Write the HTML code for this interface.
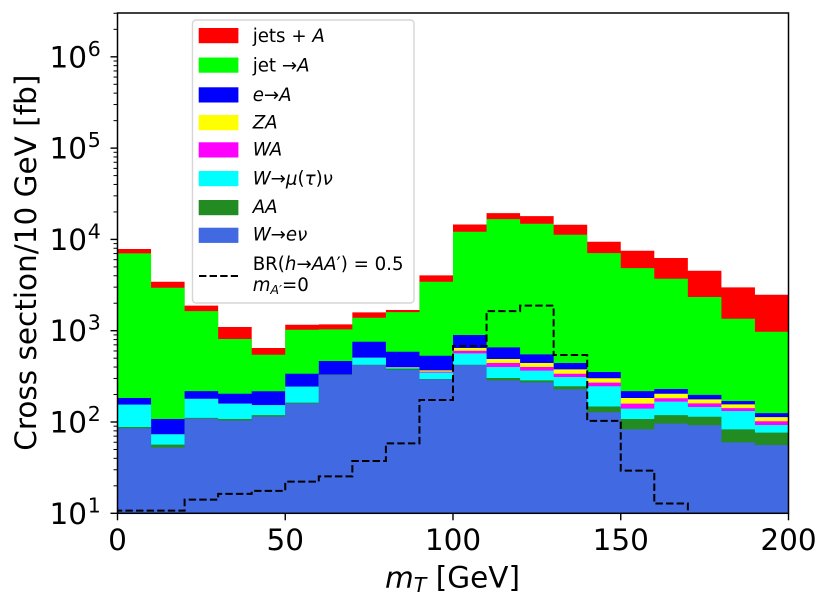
<!DOCTYPE html>
<html>
<head>
<meta charset="utf-8">
<title>Cross section vs transverse mass</title>
<style>
html,body{margin:0;padding:0;background:#fff;}
svg{display:block;font-family:"DejaVu Sans","Liberation Sans",sans-serif;}
.leg{font-size:18.2px;fill:#000;}
.it{font-style:italic;}
</style>
</head>
<body>
<svg id="chart" width="831" height="607" viewBox="0 0 831 607" xmlns="http://www.w3.org/2000/svg">
  <defs><clipPath id="plot-clip"><rect x="117.5" y="13" width="671" height="500.3"/></clipPath></defs>
  <rect width="831" height="607" fill="#fff"/>
  <g id="marks" clip-path="url(#plot-clip)"></g>
  <g id="axes"></g>

  <g>
    <rect x="192.5" y="20" width="221.5" height="283" rx="3.5" fill="#fff" fill-opacity="0.8" stroke="#d6d6d6" stroke-width="1.4"/>
    <g>
      <rect x="198.7" y="28" width="39.7" height="15.2" fill="#ff0000"/>
      <text class="leg" x="252.7" y="41.8">jets + <tspan class="it">A</tspan></text>
    </g>
    <g>
      <rect x="198.7" y="57.5" width="39.7" height="15.2" fill="#00ff00"/>
      <text class="leg" x="252.7" y="71.5">jet →<tspan class="it">A</tspan></text>
    </g>
    <g>
      <rect x="198.7" y="87.3" width="39.7" height="15.2" fill="#0000ff"/>
      <text class="leg" x="252.7" y="100.8"><tspan class="it">e</tspan>→<tspan class="it">A</tspan></text>
    </g>
    <g>
      <rect x="198.7" y="115" width="39.7" height="15.2" fill="#ffff00"/>
      <text class="leg it" x="252.7" y="128.3">ZA</text>
    </g>
    <g>
      <rect x="198.7" y="142.3" width="39.7" height="15.2" fill="#ff00ff"/>
      <text class="leg it" x="252.7" y="155.7">WA</text>
    </g>
    <g>
      <rect x="198.7" y="171" width="39.7" height="15.2" fill="#00ffff"/>
      <text class="leg" x="252.7" y="184.7"><tspan class="it">W</tspan>→<tspan class="it">μ</tspan>(<tspan class="it">τ</tspan>)<tspan class="it">ν</tspan></text>
    </g>
    <g>
      <rect x="198.7" y="200" width="39.7" height="15.2" fill="#228b22"/>
      <text class="leg it" x="252.7" y="213">AA</text>
    </g>
    <g>
      <rect x="198.7" y="227.7" width="39.7" height="15.2" fill="#4169e1"/>
      <text class="leg" x="252.7" y="240.7"><tspan class="it">W</tspan>→<tspan class="it">e</tspan><tspan class="it">ν</tspan></text>
    </g>
    <g>
      <line x1="199" y1="276" x2="238" y2="276" stroke="#000" stroke-width="2" stroke-dasharray="7.4 3.2"/>
      <text class="leg" x="252.7" y="270">BR(<tspan class="it">h</tspan>→<tspan class="it">AA</tspan>′) = 0.5</text>
      <text class="leg" x="252.7" y="291"><tspan class="it">m</tspan><tspan class="it" font-size="12.7" dy="3">A′</tspan><tspan dy="-3">=0</tspan></text>
    </g>
  </g>

  <text x="452.5" y="587.3" font-size="29.5" text-anchor="middle"><tspan class="it">m</tspan><tspan class="it" font-size="20.6" dy="4.5">T</tspan><tspan dy="-4.5"> [GeV]</tspan></text>
  <text transform="translate(36,262.7) rotate(-90)" font-size="29.5" text-anchor="middle">Cross section/10 GeV [fb]</text>
</svg>

<script>
// Bin edges of the histogram (GeV)
const binEdges = [0,10,20,30,40,50,60,70,80,90,100,110,120,130,140,150,160,170,180,190,200];

// Stacked heights (running total of the stack at each bin, fb)
const wEnu   = [85.3,52.4,109,104,115,160,327,421,371,293,421,286,272,228,128,83.1,95.9,92.0,59.9,56.0];
const aaTop  = [88.2,56.5,111,108,119,163,330,424,384,296,424,303,286,246,148,108,119,114,83.1,76.4];
const wMuTau = [155,73.3,179,159,153,244,330,506,394,347,565,400,365,311,246,140,167,146,132,92.7];
const waTop  = [155,73.3,179,159,153,244,330,506,398,356,604,443,400,338,270,159,182,160,142,102];
const zaTop  = [155,73.3,179,159,153,244,330,506,400,368,646,490,443,377,301,183,204,177,156,113];
const eToA   = [183,108,218,204,217,338,466,758,589,532,897,657,551,443,353,218,230,198,170,125];
const jetToA = [7030,2958,1641,811,546,1026,1035,1387,1600,3440,12130,16700,14860,11250,7080,4854,3707,2339,1352,975];
const jetsA  = [7840,3440,1880,1097,646,1163,1173,1587,1684,4034,14590,19410,17990,14480,9420,7516,6250,4540,2980,2478];

// Signal histogram, dashed step line
const signal = [10.7,10.7,14.1,16.3,17.6,22.2,25.4,37.4,58.4,174,679,1641,1880,542,103,29.3,12.8,8,5,3];

// Tick labels
const xTicks = [0,50,100,150,200];
const yDecades = [1,2,3,4,5,6];
const yMinorFactors = [2,3,4,5,6,7,8,9];

const PLOT = {left:117.5,right:788.5,top:13,bottom:513.3,xMin:0,xMax:200,logMin:1,logMax:Math.log10(3.02e6)};
const NS = 'http://www.w3.org/2000/svg';
function xScale(v){return PLOT.left+(v-PLOT.xMin)/(PLOT.xMax-PLOT.xMin)*(PLOT.right-PLOT.left);}
function yScale(v){return PLOT.bottom-(Math.log10(v)-PLOT.logMin)/(PLOT.logMax-PLOT.logMin)*(PLOT.bottom-PLOT.top);}
function make(tag,attrs){const e=document.createElementNS(NS,tag);for(const k in attrs)e.setAttribute(k,attrs[k]);return e;}
function stepPath(vals,close){
  let d='M'+xScale(binEdges[0]).toFixed(2)+' '+PLOT.bottom;
  vals.forEach(function(v,i){
    const y=yScale(v).toFixed(2);
    d+='L'+xScale(binEdges[i]).toFixed(2)+' '+y+'L'+xScale(binEdges[i+1]).toFixed(2)+' '+y;
  });
  d+='L'+xScale(binEdges[binEdges.length-1]).toFixed(2)+' '+PLOT.bottom;
  return close?d+'Z':d;
}

const marks=document.getElementById('marks');
const axes=document.getElementById('axes');

function addSeries(vals,color,name){
  const p=make('path',{d:stepPath(vals,true),fill:color});
  
  
  marks.appendChild(p);
}
addSeries(jetsA,'#ff0000','series-jets-a');
addSeries(jetToA,'#00ff00','series-jet-a');
addSeries(eToA,'#0000ff','series-e-a');
addSeries(zaTop,'#ffff00','series-za');
addSeries(waTop,'#ff00ff','series-wa');
addSeries(wMuTau,'#00ffff','series-w-mu-tau-nu');
addSeries(aaTop,'#228b22','series-aa');
addSeries(wEnu,'#4169e1','series-w-e-nu');

const sig=make('path',{d:stepPath(signal,false),fill:'none',stroke:'#000','stroke-width':2,'stroke-dasharray':'7.4 3.2'});


marks.appendChild(sig);

xTicks.forEach(function(t){
  const x=xScale(t);
  const l=make('line',{x1:x,x2:x,y1:PLOT.bottom,y2:PLOT.bottom+7,stroke:'#000','stroke-width':1.4});
  
  
  axes.appendChild(l);
  const txt=make('text',{x:x,y:550,'font-size':29.5,'text-anchor':'middle'});
  txt.textContent=String(t);
  
  
  axes.appendChild(txt);
});

yDecades.forEach(function(k){
  const base=Math.pow(10,k);
  const y=yScale(base);
  const l=make('line',{x1:PLOT.left-7,x2:PLOT.left,y1:y,y2:y,stroke:'#000','stroke-width':1.4});
  
  
  axes.appendChild(l);
  const txt=make('text',{x:49.5,y:y+10.5,'font-size':29.5});
  txt.textContent='10';
  
  
  axes.appendChild(txt);
  const sup=make('text',{x:87.7,y:y-1,'font-size':20.5});
  sup.textContent=String(k);
  
  
  axes.appendChild(sup);
  yMinorFactors.forEach(function(f){
    const v=f*base;
    const ym=yScale(v);
    if(ym<PLOT.top-0.5)return;
    const m=make('line',{x1:PLOT.left-4,x2:PLOT.left,y1:ym,y2:ym,stroke:'#000','stroke-width':1});
    
    
    axes.appendChild(m);
  });
});

const frame=make('rect',{x:PLOT.left,y:PLOT.top,width:PLOT.right-PLOT.left,height:PLOT.bottom-PLOT.top,fill:'none',stroke:'#000','stroke-width':1.5});


axes.appendChild(frame);
</script>
</body>
</html>
